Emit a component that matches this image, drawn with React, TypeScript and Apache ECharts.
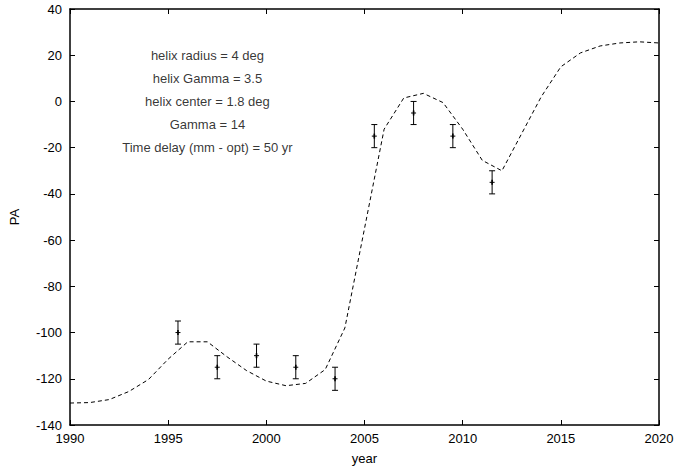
import React, { useEffect, useRef } from "react";
import * as echarts from "echarts";

const modelYears = [1990, 1991, 1992, 1993, 1994, 1995, 1996, 1997, 1998, 1999, 2000, 2001, 2002, 2003, 2004, 2005, 2006, 2007, 2008, 2009, 2010, 2011, 2012, 2013, 2014, 2015, 2016, 2017, 2018, 2019, 2020];
const modelPA = [-130.5, -130.3, -129, -125.5, -120.3, -111.5, -104, -104, -110.5, -116.5, -121, -123, -122, -116, -98, -55, -12, 1.5, 3.5, -0.5, -12, -25.5, -30, -14, 2, 15, 21, 24, 25.3, 25.8, 25.3];

const obsYears = [1995.5, 1997.5, 1999.5, 2001.5, 2003.5, 2005.5, 2007.5, 2009.5, 2011.5];
const obsPA = [-100, -115, -110, -115, -120, -15, -5, -15, -35];
const obsErr = [5, 5, 5, 5, 5, 5, 5, 5, 5];

const annotationLines = [
  "helix radius = 4 deg",
  "helix Gamma = 3.5",
  "helix center = 1.8 deg",
  "Gamma = 14",
  "Time delay (mm - opt) = 50 yr",
];
const annotationYear = 1997;
const annotationPA = [20, 10, 0, -10, -20];

const xMin = 1990, xMax = 2020, xStep = 5;
const yMin = -140, yMax = 40, yStep = 20;

const FONT = "'Liberation Sans', Arial, Helvetica, sans-serif";

export default function App() {
  const ref = useRef<HTMLDivElement>(null);
  useEffect(() => {
    if (!ref.current) return;
    const chart = echarts.init(ref.current, undefined, { renderer: "svg" });
    const axisLine = { show: true, onZero: false, lineStyle: { color: "#000", width: 1.5 } };
    const tick = { show: true, inside: true, length: 5, lineStyle: { color: "#000", width: 1 } };
    const label = { color: "#000", fontSize: 13, fontFamily: FONT };
    chart.setOption({
      animation: false,
      backgroundColor: "#fff",
      textStyle: { fontFamily: FONT },
      grid: { left: 69, right: 18, top: 9, bottom: 44, containLabel: false },
      xAxis: [
        {
          type: "value", min: xMin, max: xMax, interval: xStep, position: "bottom",
          axisLine, axisTick: tick, splitLine: { show: false },
          axisLabel: { ...label, margin: 7, formatter: (v: number) => String(v) },
          name: "year", nameLocation: "middle", nameGap: 27,
          nameTextStyle: { ...label },
        },
        {
          type: "value", min: xMin, max: xMax, interval: xStep, position: "top",
          axisLine, axisTick: tick, splitLine: { show: false }, axisLabel: { show: false },
        },
      ],
      yAxis: [
        {
          type: "value", min: yMin, max: yMax, interval: yStep, position: "left",
          axisLine, axisTick: tick, splitLine: { show: false },
          axisLabel: { ...label, margin: 8, formatter: (v: number) => String(v) },
          name: "PA", nameLocation: "middle", nameGap: 49,
          nameTextStyle: { ...label },
        },
        {
          type: "value", min: yMin, max: yMax, interval: yStep, position: "right",
          axisLine, axisTick: tick, splitLine: { show: false }, axisLabel: { show: false },
        },
      ],
      series: [
        {
          type: "line",
          data: modelYears.map((y, i) => [y, modelPA[i]]),
          symbol: "none",
          smooth: false,
          lineStyle: { color: "#000", width: 1, type: [4, 3] },
          z: 2,
        },
        {
          type: "custom",
          data: obsYears.map((y, i) => [y, obsPA[i], obsErr[i]]),
          renderItem: (params: any, api: any) => {
            const x = api.value(0);
            const v = api.value(1);
            const e = api.value(2);
            const top = api.coord([x, v + e]);
            const bot = api.coord([x, v - e]);
            const c = api.coord([x, v]);
            const cap = 3;
            const st = { stroke: "#000", lineWidth: 1 };
            return {
              type: "group",
              children: [
                { type: "line", shape: { x1: top[0], y1: top[1], x2: bot[0], y2: bot[1] }, style: st },
                { type: "line", shape: { x1: top[0] - cap, y1: top[1], x2: top[0] + cap, y2: top[1] }, style: st },
                { type: "line", shape: { x1: bot[0] - cap, y1: bot[1], x2: bot[0] + cap, y2: bot[1] }, style: st },
                { type: "line", shape: { x1: c[0] - 2.5, y1: c[1], x2: c[0] + 2.5, y2: c[1] }, style: { stroke: "#000", lineWidth: 1 } },
                { type: "line", shape: { x1: c[0], y1: c[1] - 2.5, x2: c[0], y2: c[1] + 2.5 }, style: { stroke: "#000", lineWidth: 1.6 } },
              ],
            };
          },
          z: 3,
        },
        {
          type: "scatter",
          symbolSize: 0,
          data: annotationPA.map((p, i) => ({ value: [annotationYear, p], name: annotationLines[i] })),
          label: {
            show: true,
            position: "inside",
            formatter: (p: any) => p.name,
            color: "#000",
            fontSize: 13,
            fontFamily: FONT,
            align: "center",
            verticalAlign: "middle",
          },
          silent: true,
          z: 4,
        },
      ],
    });
    return () => chart.dispose();
  }, []);
  return (
    <div
      ref={ref}
      style={{ position: "fixed", left: 0, top: 0, width: 677, height: 470, background: "#fff" }}
    />
  );
}
